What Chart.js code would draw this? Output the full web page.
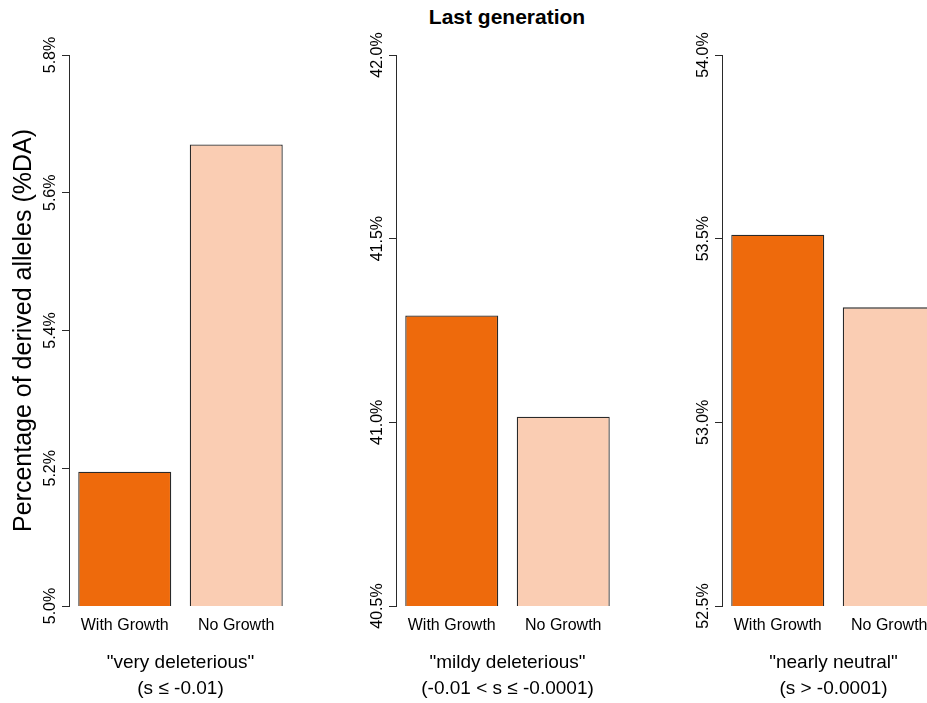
<!DOCTYPE html>
<html>
<head>
<meta charset="utf-8">
<script src="https://cdn.jsdelivr.net/npm/chart.js@4.4.1/dist/chart.umd.min.js"></script>
<style>
  html, body { margin: 0; padding: 0; background: #fff; width: 927px; height: 703px; overflow: hidden; position: relative; }
  .panel { position: absolute; top: 0; width: 292px; height: 703px; }
  #title { position: absolute; top: 4px; left: 0; width: 1014px; text-align: center; font: bold 21px "Liberation Sans", Arial, sans-serif; color: #000; line-height: 26px; }
</style>
</head>
<body>
<div id="title">Last generation</div>
<div class="panel" style="left:0px"><canvas id="c1" width="292" height="703"></canvas></div>
<div class="panel" style="left:327px"><canvas id="c2" width="292" height="703"></canvas></div>
<div class="panel" style="left:653px"><canvas id="c3" width="292" height="703"></canvas></div>
<script>
// ---- data ----
const categories = ["With Growth", "No Growth"];
const veryDeleterious = [5.195, 5.670];
const mildlyDeleterious = [41.291, 41.015];
const nearlyNeutral = [53.511, 53.313];
const panelTitles = [
  ['"very deleterious"', '(s \u2264 -0.01)'],
  ['"mildy deleterious"', '(-0.01 < s \u2264 -0.0001)'],
  ['"nearly neutral"', '(s > -0.0001)']
];
const yRanges = [[5.0, 5.8, 0.2], [40.5, 42.0, 0.5], [52.5, 54.0, 0.5]];
const yTitle = "Percentage of derived alleles (%DA)";
const barColors = ["#EE6A0C", "#FACDB3"];

const FONT = '"Liberation Sans", Arial, sans-serif';

const rotatedTicks = {
  id: 'rotatedTicks',
  afterDraw(chart, args, opts) {
    const ctx = chart.ctx;
    const y = chart.scales.y;
    ctx.save();
    ctx.fillStyle = '#000';
    ctx.font = '16px ' + FONT;
    ctx.textAlign = 'center';
    ctx.textBaseline = 'alphabetic';
    y.ticks.forEach(t => {
      const py = y.getPixelForValue(t.value);
      ctx.save();
      ctx.translate(chart.chartArea.left - 14, py);
      ctx.rotate(-Math.PI / 2);
      ctx.fillText(t.value.toFixed(1) + '%', 0, 0);
      ctx.restore();
    });
    if (opts.yTitle) {
      ctx.save();
      ctx.font = '25px ' + FONT;
      ctx.translate(31, (chart.chartArea.top + chart.chartArea.bottom) / 2);
      ctx.rotate(-Math.PI / 2);
      ctx.fillText(opts.yTitle, 0, 0);
      ctx.restore();
    }
    ctx.restore();
  }
};

function makePanel(id, values, range, subtitle, showYTitle) {
  new Chart(document.getElementById(id), {
    type: 'bar',
    data: {
      labels: categories,
      datasets: [{
        data: values,
        backgroundColor: barColors,
        borderColor: '#2a2a2a',
        borderWidth: 1.3,
        borderSkipped: false,
        barPercentage: 0.834,
        categoryPercentage: 1.0
      }]
    },
    options: {
      responsive: false,
      animation: false,
      events: [],
      layout: { padding: { top: 55, right: 0, bottom: 0, left: 0 } },
      plugins: {
        legend: { display: false },
        tooltip: { enabled: false },
        rotatedTicks: { yTitle: showYTitle ? yTitle : null }
      },
      scales: {
        x: {
          offset: true,
          grid: { display: false, drawTicks: false },
          border: { display: false },
          ticks: { color: '#000', font: { size: 16, family: FONT }, padding: 10, maxRotation: 0 },
          title: {
            display: true,
            text: subtitle,
            color: '#000',
            font: { size: 19, family: FONT, lineHeight: 26 / 19 },
            padding: { top: 0, bottom: 1 }
          },
          afterFit: s => { s.height = 97; }
        },
        y: {
          min: range[0],
          max: range[1],
          ticks: { stepSize: range[2], display: false },
          grid: { drawOnChartArea: false, drawTicks: true, tickLength: 7, color: '#2a2a2a', lineWidth: 1 },
          border: { display: true, color: '#2a2a2a', width: 1 },
          afterFit: s => { s.width = 69; }
        }
      }
    },
    plugins: [rotatedTicks]
  });
}

makePanel('c1', veryDeleterious, yRanges[0], panelTitles[0], true);
makePanel('c2', mildlyDeleterious, yRanges[1], panelTitles[1], false);
makePanel('c3', nearlyNeutral, yRanges[2], panelTitles[2], false);
</script>
</body>
</html>
